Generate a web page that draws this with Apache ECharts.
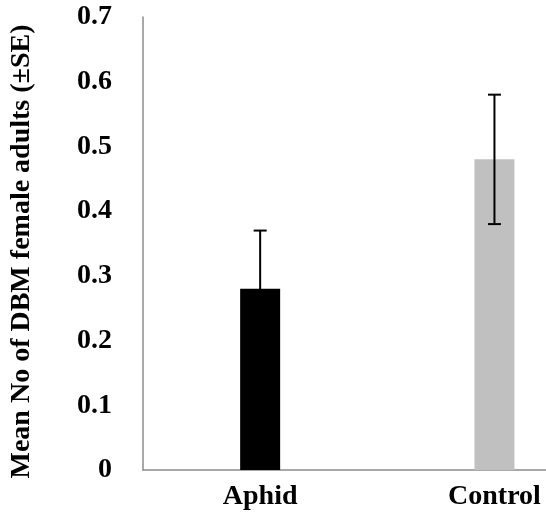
<!DOCTYPE html>
<html>
<head>
<meta charset="utf-8">
<script src="https://cdn.jsdelivr.net/npm/echarts@6/dist/echarts.min.js"></script>
<style>
  html, body { margin: 0; padding: 0; background: #ffffff; }
  #chart { width: 546px; height: 519px; }
</style>
</head>
<body>
<div id="chart"></div>
<script>
// Mean number of DBM female adults per treatment, with standard errors
const categories = ['Aphid', 'Control'];
const means = [0.28, 0.48];
const stdErrors = [0.09, 0.10];
const barColors = ['#000000', '#c0c0c0'];
const yTicks = [0, 0.1, 0.2, 0.3, 0.4, 0.5, 0.6, 0.7];

const serif = '"Liberation Serif", "Times New Roman", serif';

const chart = echarts.init(document.getElementById('chart'), null, { renderer: 'canvas' });

const positions = categories.map((c, i) => i);
const errorData = categories.map((c, i) => [i, means[i] - stdErrors[i], means[i] + stdErrors[i]]);

chart.setOption({
  backgroundColor: '#ffffff',
  animation: false,
  grid: { left: 140, top: 17, bottom: 49, right: 0, containLabel: false },
  // numeric x scale: each treatment sits at an integer slot; the visible
  // range ends partway into the slot after the last treatment
  xAxis: {
    type: 'value',
    min: -0.5,
    max: 1.22,
    splitLine: { show: false },
    axisLine: { show: true, onZero: false, lineStyle: { color: '#8c8c8c', width: 1.5 } },
    axisTick: { show: false },
    axisLabel: {
      customValues: positions,
      margin: 13,
      fontFamily: serif,
      fontWeight: 'bold',
      fontSize: 28,
      color: '#000',
      formatter: v => categories[Math.round(v)] ?? ''
    }
  },
  yAxis: {
    type: 'value',
    min: yTicks[0],
    max: yTicks[yTicks.length - 1],
    interval: 0.1,
    name: 'Mean No of DBM female adults (±SE)',
    nameLocation: 'middle',
    nameGap: 107,
    nameTextStyle: {
      fontFamily: serif,
      fontWeight: 'bold',
      fontSize: 28,
      color: '#000',
      padding: [0, 16, 0, 0]
    },
    splitLine: { show: false },
    axisTick: { show: false },
    axisLine: { show: true, onZero: false, lineStyle: { color: '#8c8c8c', width: 1.5 } },
    axisLabel: {
      margin: 31,
      fontFamily: serif,
      fontWeight: 'bold',
      fontSize: 28,
      color: '#000',
      formatter: v => (v === 0 ? '0' : v.toFixed(1))
    }
  },
  series: [
    {
      type: 'bar',
      barWidth: 40,
      data: means.map((v, i) => ({ value: [positions[i], v], itemStyle: { color: barColors[i] } }))
    },
    {
      type: 'custom',
      data: errorData,
      z: 10,
      renderItem: function (params, api) {
        const x = api.value(0);
        const lo = api.coord([x, api.value(1)]);
        const hi = api.coord([x, api.value(2)]);
        const cap = 6.5;
        const style = { stroke: '#000', lineWidth: 2 };
        return {
          type: 'group',
          children: [
            { type: 'line', shape: { x1: hi[0], y1: hi[1], x2: lo[0], y2: lo[1] }, style },
            { type: 'line', shape: { x1: hi[0] - cap, y1: hi[1], x2: hi[0] + cap, y2: hi[1] }, style },
            { type: 'line', shape: { x1: lo[0] - cap, y1: lo[1], x2: lo[0] + cap, y2: lo[1] }, style }
          ]
        };
      }
    }
  ]
});
</script>
</body>
</html>
